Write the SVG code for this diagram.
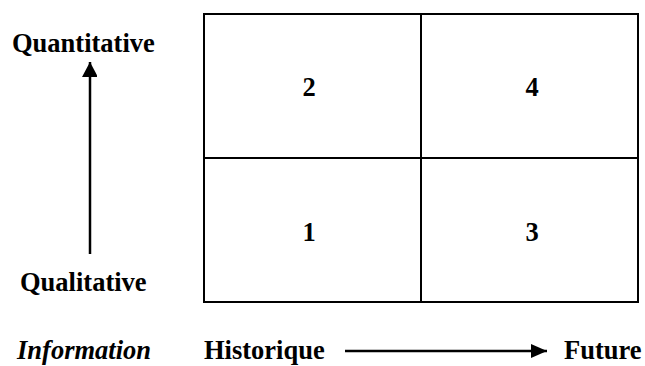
<svg xmlns="http://www.w3.org/2000/svg" width="645" height="366" viewBox="0 0 645 366">
<defs>
<marker id="ah" markerWidth="16" markerHeight="15" refX="15" refY="8" orient="auto" markerUnits="userSpaceOnUse"><path d="M0,0 L15,8 L0,16 Z" fill="#000"/></marker>
<marker id="ah2" markerWidth="17" markerHeight="14" refX="16" refY="7" orient="auto" markerUnits="userSpaceOnUse"><path d="M0,0 L16,7 L0,14 Z" fill="#000"/></marker>
</defs>
<style>
text{font-family:"Liberation Serif","Times New Roman",serif;font-weight:bold;fill:#000}
.lbl{font-size:26.5px}
.num{font-size:26.5px;text-anchor:middle}
.cell{fill:#fff;stroke:#000;stroke-width:2}
.conn{stroke:#000;stroke-width:2.5;fill:none}
</style>
<rect width="645" height="366" fill="#fff"/>
<g id="cell2"><rect class="cell" x="204" y="14" width="217" height="144"/><text class="num" x="309" y="96">2</text></g>
<g id="cell4"><rect class="cell" x="421" y="14" width="217" height="144"/><text class="num" x="532" y="96">4</text></g>
<g id="cell1"><rect class="cell" x="204" y="158" width="217" height="144"/><text class="num" x="309" y="241">1</text></g>
<g id="cell3"><rect class="cell" x="421" y="158" width="217" height="144"/><text class="num" x="532" y="241">3</text></g>
<g id="labels">
<text class="lbl" x="12" y="52">Quantitative</text>
<text class="lbl" x="20" y="291">Qualitative</text>
<text class="lbl" x="17" y="359" font-style="italic">Information</text>
<text class="lbl" x="204" y="359">Historique</text>
<text class="lbl" x="564" y="359">Future</text>
</g>
<g id="connectors">
<line class="conn" x1="90" y1="254" x2="90" y2="62" marker-end="url(#ah)"/>
<line class="conn" x1="345" y1="351" x2="547" y2="351" marker-end="url(#ah2)"/>
</g>
</svg>
